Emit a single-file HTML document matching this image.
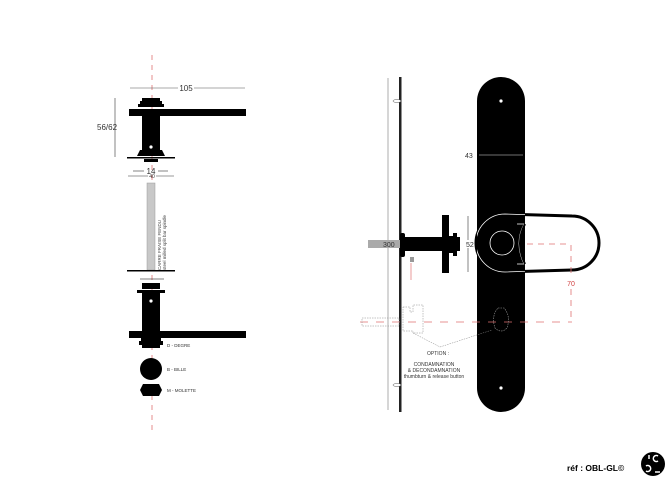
<!DOCTYPE html>
<html><head><meta charset="utf-8"><style>
html,body{margin:0;padding:0;background:#fff;width:670px;height:491px;overflow:hidden}
svg{display:block}
text{font-family:"Liberation Sans",sans-serif}
</style></head><body>
<svg width="670" height="491" viewBox="0 0 670 491" xmlns="http://www.w3.org/2000/svg">
<defs>
<clipPath id="pl"><path d="M477 101 A24 24 0 0 1 525 101 L525 388 A24 24 0 0 1 477 388 Z"/></clipPath>
</defs>
<line x1="152" y1="55" x2="152" y2="430" stroke="#e07070" stroke-width="0.8" stroke-dasharray="5,5"/>
<line x1="130" y1="88" x2="245" y2="88" stroke="#555" stroke-width="0.6"/>
<rect x="178" y="83" width="16" height="10" fill="#fff"/>
<text x="186" y="91" font-size="8" text-anchor="middle" fill="#333">105</text>
<rect x="142" y="98" width="18" height="3" fill="#000"/>
<rect x="140" y="101" width="22" height="3" fill="#000"/>
<rect x="138" y="104" width="26" height="3" fill="#000"/>
<rect x="129" y="109" width="117" height="7" fill="#000"/>
<rect x="142" y="116" width="18" height="36" fill="#000"/>
<path d="M140 150 L162 150 L165 156 L137 156 Z" fill="#000"/>
<circle cx="151" cy="147" r="1.6" fill="#fff"/>
<rect x="127" y="157" width="48" height="1.5" fill="#000"/>
<rect x="144" y="159" width="14" height="3" fill="#000"/>
<line x1="115" y1="98" x2="115" y2="157" stroke="#333" stroke-width="0.6"/>
<text x="97" y="130" font-size="8" fill="#333">56/62</text>
<text x="151" y="174" font-size="8" text-anchor="middle" fill="#333">14</text>
<line x1="133" y1="171" x2="144" y2="171" stroke="#333" stroke-width="0.6"/>
<line x1="158" y1="171" x2="168" y2="171" stroke="#333" stroke-width="0.6"/>
<line x1="128" y1="176" x2="148" y2="176" stroke="#333" stroke-width="0.6"/>
<line x1="156" y1="176" x2="174" y2="176" stroke="#333" stroke-width="0.6"/>
<text x="152" y="178" font-size="5" text-anchor="middle" fill="#333">40</text>
<rect x="147" y="183" width="8" height="87" fill="#c8c8c8" stroke="#999" stroke-width="0.5"/>
<text transform="translate(161,270) rotate(-90)" font-size="4.5" fill="#444">CARRE FRAISE FENDU</text>
<text transform="translate(166,270) rotate(-90)" font-size="4.5" fill="#444">steel milled split bar spindle</text>
<rect x="127" y="270" width="48" height="1.5" fill="#000"/>
<line x1="140" y1="279" x2="164" y2="279" stroke="#000" stroke-width="0.6"/>
<rect x="142" y="283" width="18" height="6" fill="#000"/>
<rect x="137" y="290" width="28" height="3" fill="#000"/>
<rect x="142" y="293" width="18" height="38" fill="#000"/>
<circle cx="151" cy="301" r="1.6" fill="#fff"/>
<rect x="129" y="331" width="117" height="7" fill="#000"/>
<rect x="141" y="338" width="20" height="3" fill="#000"/>
<rect x="139" y="341" width="24" height="4" fill="#000"/>
<rect x="142" y="345" width="18" height="3" fill="#000"/>
<text x="167" y="347" font-size="4.5" fill="#333">D - DEGRE</text>
<circle cx="151" cy="369" r="11" fill="#000"/>
<text x="167" y="371" font-size="4.5" fill="#333">B - BILLE</text>
<path d="M143 384 L159 384 L162 390 L159 396 L143 396 L140 390 Z" fill="#000"/>
<text x="167" y="392" font-size="4.5" fill="#333">M - MOLETTE</text>

<line x1="388" y1="78" x2="388" y2="410" stroke="#999" stroke-width="0.8"/>
<rect x="399" y="77" width="2.5" height="335" fill="#222"/>
<ellipse cx="397" cy="101" rx="4" ry="1.5" fill="#fff" stroke="#555" stroke-width="0.5"/>
<ellipse cx="397" cy="385" rx="4" ry="1.5" fill="#fff" stroke="#555" stroke-width="0.5"/>
<path d="M477 101 A24 24 0 0 1 525 101 L525 388 A24 24 0 0 1 477 388 Z" fill="#000"/>
<circle cx="501" cy="101" r="1.6" fill="#fff"/>
<circle cx="501" cy="388" r="1.6" fill="#fff"/>
<line x1="479" y1="155" x2="523" y2="155" stroke="#ddd" stroke-width="0.6"/>
<text x="465" y="158" font-size="7" fill="#333">43</text>
<rect x="368" y="240" width="32" height="8" fill="#aaa"/>
<text x="383" y="247" font-size="7" fill="#333">300</text>
<rect x="400" y="233" width="5" height="24" rx="2" fill="#000"/>
<rect x="405" y="237" width="38" height="14" fill="#000"/>
<rect x="442" y="215" width="7" height="58" fill="#000"/>
<rect x="449" y="236" width="4" height="17" fill="#000"/>
<rect x="453" y="233" width="4" height="23" fill="#000"/>
<rect x="457" y="237" width="3" height="14" fill="#000"/>
<rect x="410" y="257" width="4" height="5" fill="#999"/>
<line x1="411" y1="263" x2="411" y2="280" stroke="#e07070" stroke-width="0.7"/>
<line x1="468" y1="216" x2="468" y2="272" stroke="#333" stroke-width="0.6"/>
<rect x="465" y="240" width="8" height="8" fill="#fff"/>
<text x="466" y="247" font-size="7" fill="#333">52</text>
<!-- lever loop -->
<path d="M505 214 L572 216 A27 27 0 0 1 572 270 L505 272 A29 29 0 0 1 505 214 Z" fill="none" stroke="#000" stroke-width="3"/>
<g clip-path="url(#pl)">
<path d="M505 214 L572 216 A27 27 0 0 1 572 270 L505 272 A29 29 0 0 1 505 214 Z" fill="#000" stroke="#fff" stroke-width="0.8"/>
<circle cx="502" cy="243" r="12" fill="none" stroke="#fff" stroke-width="0.8"/>
<path d="M517 224 L524 224 Q514 243 524 264 L517 264" fill="none" stroke="#fff" stroke-width="0.8"/>
</g>
<path d="M525 224 Q515 243 525 264" fill="none" stroke="#000" stroke-width="2"/>
<line x1="527" y1="244" x2="571" y2="244" stroke="#e07070" stroke-width="0.8" stroke-dasharray="6,5"/>
<line x1="571" y1="245" x2="571" y2="321" stroke="#e07070" stroke-width="0.8" stroke-dasharray="6,5"/>
<rect x="566" y="278" width="10" height="9" fill="#fff"/>
<text x="571" y="286" font-size="7" text-anchor="middle" fill="#d04040">70</text>
<line x1="360" y1="322" x2="572" y2="322" stroke="#e07070" stroke-width="0.8" stroke-dasharray="8,8"/>
<rect x="362" y="318" width="37" height="8" fill="none" stroke="#888" stroke-width="0.5" stroke-dasharray="1.5,1"/>
<path d="M403 307 L410 307 L410 312 L413 312 L413 305 L423 305 L423 333 L413 333 L413 331 L403 331 Z" fill="none" stroke="#888" stroke-width="0.5" stroke-dasharray="1.5,1"/>
<path d="M498 308 L504 308 Q511 316 507 328 Q501 334 495 328 Q491 316 498 308 Z" fill="none" stroke="#999" stroke-width="0.6" stroke-dasharray="1.5,1"/>
<line x1="413" y1="333" x2="440" y2="347" stroke="#888" stroke-width="0.5" stroke-dasharray="1.5,1"/>
<line x1="440" y1="347" x2="492" y2="330" stroke="#888" stroke-width="0.5" stroke-dasharray="1.5,1"/>
<text x="438" y="355" font-size="5" text-anchor="middle" fill="#333">OPTION :</text>
<text x="434" y="366" font-size="5" text-anchor="middle" fill="#333">CONDAMNATION</text>
<text x="434" y="372" font-size="5" text-anchor="middle" fill="#333">&amp; DECONDAMNATION</text>
<text x="434" y="378" font-size="5" text-anchor="middle" fill="#333">thumbturn &amp; release button</text>
<text x="567" y="471" font-size="8.5" font-weight="bold" fill="#000">réf : OBL-GL©</text>
<circle cx="653" cy="464" r="12" fill="#000"/>
<line x1="649" y1="455" x2="649" y2="459" stroke="#fff" stroke-width="1.5"/>
<path d="M658 456 A3 3 0 1 0 658 461" fill="none" stroke="#fff" stroke-width="1.5"/>
<path d="M646 466 A3 3 0 1 1 646 471" fill="none" stroke="#fff" stroke-width="1.5"/>
<line x1="655" y1="472" x2="660" y2="472" stroke="#fff" stroke-width="1.5"/>
</svg>
</body></html>
